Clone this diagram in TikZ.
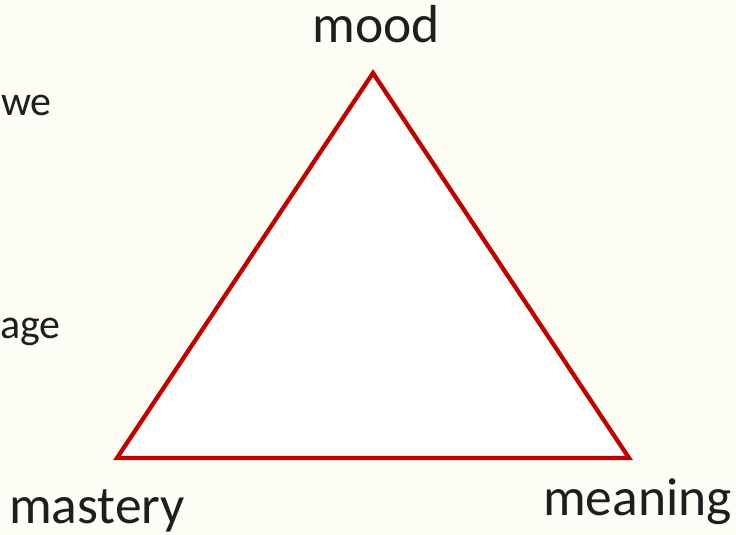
\documentclass[tikz,border=0pt]{standalone}
\usepackage{fontspec}
\setmainfont{Carlito}
\definecolor{bg}{HTML}{FDFDF5}
\definecolor{tri}{HTML}{C00000}
\definecolor{ink}{HTML}{1E1E1E}
\begin{document}
\begin{tikzpicture}[x=1pt,y=-1pt,
  lbl/.style={inner sep=0pt,text=ink,font=\fontsize{53.5}{60}\selectfont},
  side/.style={inner sep=0pt,text=ink,font=\fontsize{42}{48}\selectfont}]
\fill[bg] (0,0) rectangle (736,535);
\useasboundingbox (0,0) rectangle (736,535);
\coordinate (A) at (373,73);
\coordinate (B) at (117,458);
\coordinate (C) at (629,458);
\filldraw[fill=white,draw=tri,line width=4.3pt,line join=miter] (A) -- (B) -- (C) -- cycle;
\node[lbl,anchor=base] (mood) at (376,43) {mood};
\node[lbl,anchor=base west] (mastery) at (9,523) {mastery};
\node[lbl,anchor=base west] (meaning) at (543,515) {meaning};
\node[side,anchor=base west] (we) at (1,115) {we};
\node[side,anchor=base west] (age) at (0,338) {age};
\end{tikzpicture}
\end{document}
